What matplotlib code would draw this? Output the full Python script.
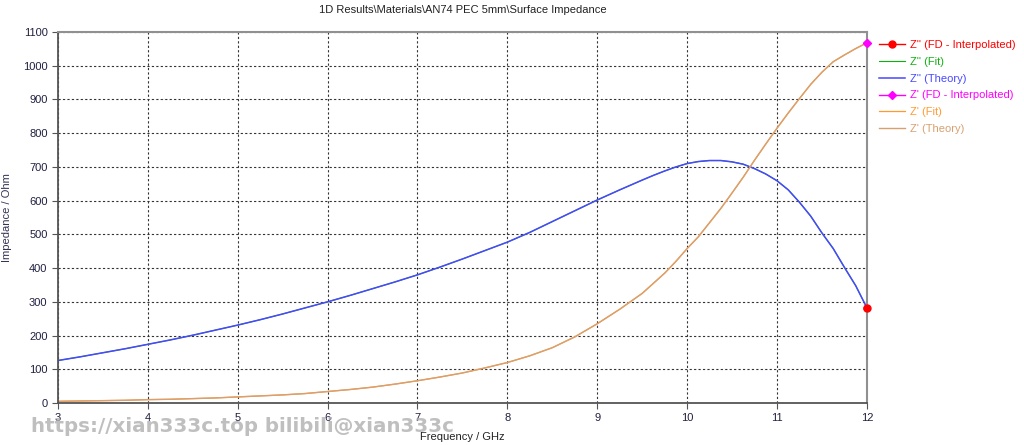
import numpy as np
import matplotlib.pyplot as plt

freq = [3.0, 3.25, 3.5, 3.75, 4.0, 4.25, 4.5, 4.75, 5.0, 5.25, 5.5, 5.75,
        6.0, 6.25, 6.5, 6.75, 7.0, 7.25, 7.5, 7.75, 8.0, 8.25, 8.5, 8.75,
        9.0, 9.25, 9.5, 9.625, 9.75, 9.875, 10.0, 10.125, 10.25, 10.375,
        10.5, 10.625, 10.75, 10.875, 11.0, 11.125, 11.25, 11.375, 11.5,
        11.625, 11.75, 11.875, 12.0]

# Z'' (imaginary part), theory / fit overlap
zim = [126, 137, 149, 161, 174, 187, 201, 216, 231, 247, 264, 282,
       300, 319, 339, 359, 380, 403, 427, 452, 477, 506, 538, 570,
       602, 632, 661, 675, 688, 700, 710, 716, 719, 719,
       715, 708, 695, 679, 659, 632, 595, 554, 504,
       458, 402, 348, 282]

# Z' (real part)
zre = [5, 6, 7, 8, 10, 11, 13, 15, 18, 21, 24, 28,
       34, 40, 47, 56, 66, 77, 89, 104, 120, 140, 164, 196,
       235, 278, 325, 355, 385, 420, 458, 493, 535, 577,
       623, 670, 720, 768, 815, 860, 903, 945, 981,
       1012, 1032, 1051, 1068]

# FD interpolated samples
fd_freq = [12.0]
fd_zim = [282]
fd_zre = [1068]

colors = ['#ff0000', '#10b010', '#4848ff', '#ff00ff', '#ff9a30', '#d8a070']

plt.rcParams['font.family'] = ['Liberation Sans', 'DejaVu Sans']

fig = plt.figure(figsize=(10.24, 4.45), dpi=100)
ax = fig.add_axes([0.0566, 0.0944, 0.79, 0.8336])

ax.plot(fd_freq, fd_zim, color=colors[0], marker='o', markersize=5, lw=1, label="Z'' (FD - Interpolated)")
ax.plot(freq, zim, color=colors[1], lw=0.8, label="Z'' (Fit)")
ax.plot(freq, zim, color=colors[2], lw=1.1, label="Z'' (Theory)")
ax.plot(fd_freq, fd_zre, color=colors[3], marker='D', markersize=4, lw=1, label="Z' (FD - Interpolated)")
ax.plot(freq, zre, color=colors[4], lw=0.9, label="Z' (Fit)")
ax.plot(freq, zre, color=colors[5], lw=1.0, label="Z' (Theory)")
# keep the FD markers on top
ax.plot(fd_freq, fd_zim, color=colors[0], marker='o', markersize=5, lw=0, clip_on=False, zorder=5)
ax.plot(fd_freq, fd_zre, color=colors[3], marker='D', markersize=4, lw=0, clip_on=False, zorder=5)

ax.set_xlim(3, 12)
ax.set_ylim(0, 1100)
ax.set_xticks(np.arange(3, 13, 1))
ax.set_yticks(np.arange(0, 1200, 100))
ax.grid(True, color='#333333', linestyle=(0, (2, 2)), linewidth=0.8)

for side in ['left', 'bottom']:
    ax.spines[side].set_color('#555555')
    ax.spines[side].set_linewidth(1.3)
for side in ['top', 'right']:
    ax.spines[side].set_color('#909090')
    ax.spines[side].set_linewidth(1.5)

ax.tick_params(axis='both', labelsize=8, labelcolor='#202040', color='#555555', length=4)

ax.set_xlabel('Frequency / GHz', fontsize=8, color='#222222', labelpad=6)
ax.set_ylabel('Impedance / Ohm', fontsize=8, color='#333355', labelpad=8)
ax.set_title('1D Results\\Materials\\AN74 PEC 5mm\\Surface Impedance', fontsize=8, color='#222222', pad=14)

leg = ax.legend(loc='upper left', bbox_to_anchor=(1.005, 1.0), frameon=False, fontsize=8,
                handlelength=2.4, handletextpad=0.45,
                borderaxespad=0.3, labelspacing=0.62)
for txt, c in zip(leg.get_texts(), colors):
    txt.set_color(c)

fig.text(0.03, 0.03, 'https://xian333c.top bilibili@xian333c', fontsize=14.3, fontweight='bold',
         family='DejaVu Sans', color='#b0b0b0', alpha=0.8)

fig.savefig('out.png', dpi=100)
